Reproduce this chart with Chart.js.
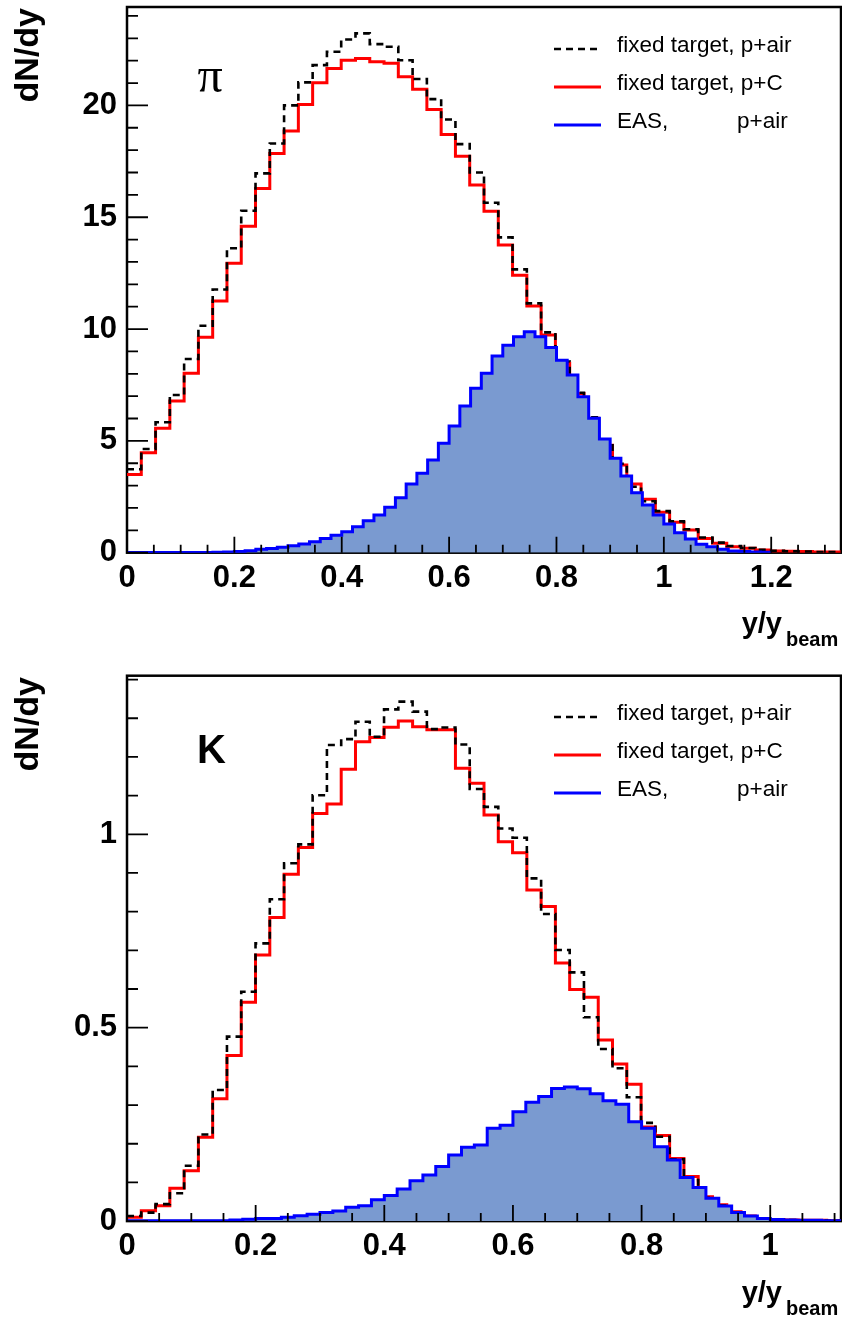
<!DOCTYPE html>
<html><head><meta charset="utf-8">
<script src="https://cdn.jsdelivr.net/npm/chart.js@4.4.1/dist/chart.umd.min.js"></script>
<style>
html,body{margin:0;padding:0;background:#fff;}
#wrap{position:relative;width:842px;height:1317px;background:#fff;}
canvas{position:absolute;left:0;}
#c1{top:0;} #c2{top:658px;}
</style></head><body>
<div id="wrap"><canvas id="c1" width="842" height="658" style="width:842px;height:658px"></canvas><canvas id="c2" width="842" height="659" style="width:842px;height:659px"></canvas></div>
<script>
// ---------------- DATA ----------------
const legendLabels = ['fixed target, p+air', 'fixed target, p+C', 'EAS,           p+air'];

// pions (top panel)
const piBinWidthFT = 0.0266;   // fixed-target histograms: 50 bins
const piBinWidthEAS = 0.02;    // EAS histogram: 60 bins
const piXMax = 1.33, piYMax = 24.4;
const piXMajorTicks = [0, 0.2, 0.4, 0.6, 0.8, 1, 1.2];
const piXTickLabels = ['0', '0.2', '0.4', '0.6', '0.8', '1', '1.2'];
const piXMinorStep = 0.05;
const piYMajorTicks = [0, 5, 10, 15, 20];
const piYTickLabels = ['0', '5', '10', '15', '20'];
const piYMinorStep = 1;

const piAir = [3.73, 4.64, 5.83, 7.05, 8.66, 10.15, 11.77, 13.61, 15.29, 16.96,
  18.30, 20.00, 21.03, 21.80, 22.40, 22.95, 23.22, 22.74, 22.62, 22.02,
  21.18, 20.28, 19.37, 18.27, 17.00, 15.65, 14.10, 12.67, 11.15, 9.85,
  8.55, 7.15, 6.05, 4.88, 3.98, 2.95, 2.30, 1.86, 1.40, 1.05,
  0.68, 0.45, 0.30, 0.21, 0.13, 0.09, 0.06, 0.05, 0.03, 0.03];
const piC = [3.50, 4.47, 5.56, 6.78, 8.02, 9.63, 11.25, 12.94, 14.60, 16.29,
  17.85, 18.86, 20.04, 21.01, 21.65, 22.02, 22.10, 21.95, 21.88, 21.28,
  20.72, 19.82, 18.70, 17.73, 16.44, 15.27, 13.76, 12.41, 11.03, 9.73,
  8.47, 7.12, 6.01, 4.81, 3.92, 3.07, 2.39, 1.81, 1.36, 1.01,
  0.63, 0.42, 0.27, 0.20, 0.12, 0.08, 0.06, 0.05, 0.03, 0.03];
const piEAS = [0.005, 0.005, 0.005, 0.005, 0.005, 0.005, 0.008, 0.01, 0.02, 0.03,
  0.05, 0.09, 0.15, 0.19, 0.24, 0.31, 0.39, 0.49, 0.63, 0.78,
  0.94, 1.16, 1.43, 1.69, 2.03, 2.46, 3.07, 3.55, 4.14, 4.89,
  5.66, 6.56, 7.35, 8.02, 8.79, 9.28, 9.66, 9.88, 9.66, 9.18,
  8.61, 7.94, 6.97, 6.01, 5.08, 4.22, 3.43, 2.68, 2.13, 1.69,
  1.28, 0.89, 0.61, 0.38, 0.27, 0.15, 0.08, 0.05, 0.03, 0.02];

// kaons (bottom panel)
const kBinWidthFT = 0.0222;
const kBinWidthEAS = 0.02;
const kXMax = 1.11, kYMax = 1.41;
const kXMajorTicks = [0, 0.2, 0.4, 0.6, 0.8, 1];
const kXTickLabels = ['0', '0.2', '0.4', '0.6', '0.8', '1'];
const kXMinorStep = 0.05;
const kYMajorTicks = [0, 0.5, 1];
const kYTickLabels = ['0', '0.5', '1'];
const kYMinorStep = 0.1;

const kAir = [0.013, 0.022, 0.044, 0.072, 0.143, 0.224, 0.339, 0.477, 0.593, 0.718,
  0.832, 0.925, 0.974, 1.101, 1.231, 1.246, 1.291, 1.252, 1.323, 1.343,
  1.317, 1.272, 1.276, 1.232, 1.117, 1.071, 1.015, 0.991, 0.886, 0.794,
  0.701, 0.643, 0.527, 0.445, 0.395, 0.320, 0.254, 0.218, 0.160, 0.106,
  0.060, 0.040, 0.022, 0.012, 0.006, 0.004, 0.003, 0.002, 0.002, 0.001];
const kC = [0.010, 0.027, 0.040, 0.085, 0.130, 0.217, 0.316, 0.428, 0.566, 0.688,
  0.785, 0.897, 0.966, 1.054, 1.078, 1.168, 1.239, 1.250, 1.277, 1.293,
  1.278, 1.270, 1.270, 1.171, 1.132, 1.050, 0.981, 0.952, 0.856, 0.813,
  0.667, 0.599, 0.579, 0.468, 0.406, 0.354, 0.243, 0.221, 0.162, 0.115,
  0.063, 0.042, 0.024, 0.013, 0.007, 0.004, 0.003, 0.002, 0.002, 0.001];
const kEAS = [0.001, 0.001, 0.001, 0.001, 0.001, 0.001, 0.001, 0.001, 0.003, 0.005,
  0.007, 0.007, 0.010, 0.014, 0.018, 0.022, 0.026, 0.036, 0.040, 0.055,
  0.066, 0.083, 0.104, 0.119, 0.141, 0.171, 0.191, 0.197, 0.240, 0.248,
  0.283, 0.307, 0.322, 0.343, 0.347, 0.342, 0.329, 0.311, 0.302, 0.257,
  0.240, 0.192, 0.158, 0.113, 0.087, 0.059, 0.039, 0.022, 0.013, 0.007,
  0.004, 0.003, 0.002, 0.002, 0.001, 0.001];

// ---------------- HELPERS ----------------
function histPoints(values, width) {
  const pts = values.map((v, i) => ({ x: i * width, y: v }));
  pts.push({ x: values.length * width, y: values[values.length - 1] });
  return pts;
}
function tickGrid(max, step) {
  const out = [];
  for (let i = 0; i * step <= max + 1e-9; i++) out.push(+(i * step).toFixed(4));
  return out;
}
function majorIndex(v, majors) { return majors.findIndex(m => Math.abs(m - v) < 1e-6); }

const TICK_FONT = { family: '"Liberation Sans", Arial, Helvetica, sans-serif', weight: 'bold', size: 31 };
const FILL_BLUE = 'rgb(122,154,208)';

const framePlugin = {
  id: 'rootFrame',
  beforeDatasetsDraw(chart) {
    const { ctx, chartArea: a } = chart;
    ctx.save();
    ctx.strokeStyle = '#000';
    ctx.lineWidth = 2.5;
    ctx.strokeRect(a.left, a.top, a.right - a.left, a.bottom - a.top);
    ctx.restore();
  },
  afterDatasetsDraw(chart, args, o) {
    const { ctx, chartArea: a, scales } = chart;
    ctx.save();
    ctx.strokeStyle = '#000';
    ctx.lineWidth = 1.8;
    ctx.beginPath();
    scales.x.ticks.forEach(t => {
      const px = scales.x.getPixelForValue(t.value);
      const len = majorIndex(t.value, o.xMajor) >= 0 ? 16 : 8;
      ctx.moveTo(px, a.bottom); ctx.lineTo(px, a.bottom - len);
    });
    scales.y.ticks.forEach(t => {
      const py = scales.y.getPixelForValue(t.value);
      const len = majorIndex(t.value, o.yMajor) >= 0 ? 21 : 11;
      ctx.moveTo(a.left, py); ctx.lineTo(a.left + len, py);
    });
    ctx.stroke();
    ctx.restore();
  },
  afterDraw(chart, args, o) {
    const { ctx } = chart;
    ctx.save();
    ctx.fillStyle = '#000';
    // y title
    ctx.save();
    ctx.translate(o.yTitle.x, o.yTitle.y);
    ctx.rotate(-Math.PI / 2);
    ctx.font = 'bold 34px "Liberation Sans", Arial, sans-serif';
    ctx.textAlign = 'right';
    ctx.textBaseline = 'alphabetic';
    ctx.fillText('dN/dy', 0, 0);
    ctx.restore();
    // x title with subscript
    ctx.font = 'bold 29px "Liberation Sans", Arial, sans-serif';
    ctx.textAlign = 'right';
    ctx.textBaseline = 'alphabetic';
    ctx.fillText('y/y', o.xTitle.x, o.xTitle.y);
    ctx.font = 'bold 20px "Liberation Sans", Arial, sans-serif';
    ctx.textAlign = 'left';
    ctx.fillText('beam', o.xTitle.x + 4, o.xTitle.y + 13);
    // particle label
    ctx.font = o.particle.font;
    ctx.textAlign = 'center';
    ctx.fillText(o.particle.text, o.particle.x, o.particle.y);
    // legend
    const ds = chart.data.datasets;
    ctx.font = '22.5px "Liberation Sans", Arial, sans-serif';
    ctx.textBaseline = 'middle';
    o.legendOrder.forEach((di, row) => {
      const d = ds[di];
      const y = o.legend.y0 + row * o.legend.dy;
      ctx.save();
      ctx.strokeStyle = d.borderColor;
      ctx.lineWidth = d.borderWidth;
      ctx.setLineDash(d.borderDash || []);
      ctx.beginPath();
      ctx.moveTo(554, y); ctx.lineTo(601, y);
      ctx.stroke();
      ctx.restore();
      ctx.fillStyle = '#000';
      ctx.textAlign = 'left';
      ctx.fillText(d.label, 617, y - 3);
    });
    ctx.restore();
  }
};

function noPad(s) { s.paddingTop = 0; s.paddingBottom = 0; s.paddingLeft = 0; s.paddingRight = 0; }

function makeChart(id, c) {
  const xTicks = tickGrid(c.xMax, c.xMinor);
  const yTicks = tickGrid(c.yMax, c.yMinor);
  return new Chart(document.getElementById(id), {
    type: 'line',
    data: {
      datasets: [
        { label: legendLabels[2], data: histPoints(c.eas, c.easW), stepped: true,
          borderColor: '#0000ff', borderWidth: 3, backgroundColor: FILL_BLUE, fill: 'origin',
          pointRadius: 0, order: 0 },
        { label: legendLabels[0], data: histPoints(c.air, c.ftW), stepped: true,
          borderColor: '#000000', borderWidth: 2.6, borderDash: [7, 5], fill: false,
          pointRadius: 0, order: 1 },
        { label: legendLabels[1], data: histPoints(c.carbon, c.ftW), stepped: true,
          borderColor: '#ff0000', borderWidth: 3, fill: false, pointRadius: 0, order: 2 }
      ]
    },
    options: {
      responsive: false, animation: false, devicePixelRatio: 1,
      layout: { padding: { top: c.padTop, right: 1, left: 0, bottom: 0 } },
      plugins: {
        legend: { display: false }, tooltip: { enabled: false },
        rootFrame: {
          xMajor: c.xMajor, yMajor: c.yMajor,
          yTitle: c.yTitle, xTitle: c.xTitle, particle: c.particle,
          legend: c.legend, legendOrder: [1, 2, 0]
        }
      },
      scales: {
        x: {
          type: 'linear', min: 0, max: c.xMax,
          afterBuildTicks: s => { s.ticks = xTicks.map(v => ({ value: v })); },
          afterFit: s => { s.height = c.xAxisH; noPad(s); },
          grid: { display: false, drawTicks: false }, border: { display: false },
          ticks: {
            autoSkip: false, maxRotation: 0, minRotation: 0, padding: 7, color: '#000', font: TICK_FONT,
            callback: v => { const i = majorIndex(v, c.xMajor); return i >= 0 ? c.xLabels[i] : ''; }
          }
        },
        y: {
          type: 'linear', min: 0, max: c.yMax,
          afterBuildTicks: s => { s.ticks = yTicks.map(v => ({ value: v })); },
          afterFit: s => { s.width = 127; noPad(s); },
          grid: { display: false, drawTicks: false }, border: { display: false },
          ticks: {
            autoSkip: false, padding: 10, color: '#000', font: TICK_FONT,
            callback: v => { const i = majorIndex(v, c.yMajor); return i >= 0 ? c.yLabels[i] : ''; }
          }
        }
      }
    },
    plugins: [framePlugin]
  });
}

makeChart('c1', {
  air: piAir, carbon: piC, eas: piEAS, ftW: piBinWidthFT, easW: piBinWidthEAS,
  xMax: piXMax, yMax: piYMax, xMajor: piXMajorTicks, xLabels: piXTickLabels, xMinor: piXMinorStep,
  yMajor: piYMajorTicks, yLabels: piYTickLabels, yMinor: piYMinorStep,
  padTop: 7, xAxisH: 105.3,
  yTitle: { x: 38, y: 8 }, xTitle: { x: 782, y: 633 },
  particle: { text: 'π', font: '50px "Liberation Serif", "Times New Roman", serif', x: 210, y: 92 },
  legend: { y0: 49, dy: 38 }
});
makeChart('c2', {
  air: kAir, carbon: kC, eas: kEAS, ftW: kBinWidthFT, easW: kBinWidthEAS,
  xMax: kXMax, yMax: kYMax, xMajor: kXMajorTicks, xLabels: kXTickLabels, xMinor: kXMinorStep,
  yMajor: kYMajorTicks, yLabels: kYTickLabels, yMinor: kYMinorStep,
  padTop: 17.7, xAxisH: 95.9,
  yTitle: { x: 38, y: 19 }, xTitle: { x: 782, y: 644 },
  particle: { text: 'K', font: 'bold 40px "Liberation Sans", Arial, sans-serif', x: 211.5, y: 105 },
  legend: { y0: 59, dy: 38 }
});
</script>
</body></html>
